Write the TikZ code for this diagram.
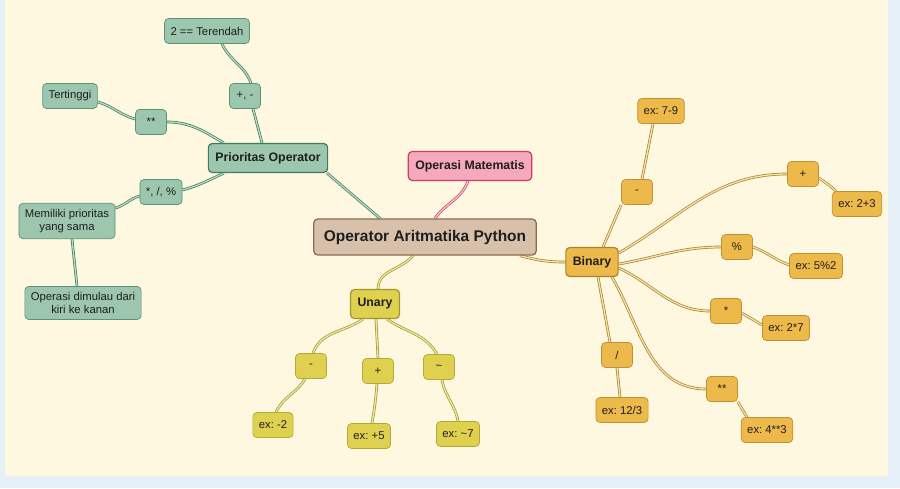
\documentclass[tikz,border=0pt]{standalone}
\usepackage{fontspec}
\setmainfont{Liberation Sans}
\usetikzlibrary{backgrounds}
\frenchspacing

\definecolor{paper}{HTML}{FFF8E0}
\definecolor{frame}{HTML}{E6F0F8}
\definecolor{rootfill}{HTML}{D8C1AB}
\definecolor{rootdraw}{HTML}{8C6B52}
\definecolor{greenfill}{HTML}{9DC6AF}
\definecolor{greendraw}{HTML}{3F7A5E}
\definecolor{greenpale}{HTML}{B8DAC6}
\definecolor{pinkfill}{HTML}{F6A9BC}
\definecolor{pinkdraw}{HTML}{C93F63}
\definecolor{pinkpale}{HTML}{FAC4D2}
\definecolor{yelfill}{HTML}{DFD14F}
\definecolor{yeldraw}{HTML}{A0962E}
\definecolor{yelpale}{HTML}{EEE8A8}
\definecolor{orfill}{HTML}{EDB94B}
\definecolor{ordraw}{HTML}{A8822C}
\definecolor{orpale}{HTML}{F5E2AE}
\definecolor{ink}{HTML}{1E1E1E}

\begin{document}
\begin{tikzpicture}[x=1pt,y=1pt,
	box/.style={rounded corners=4pt,line width=0.7pt,text=ink,align=center,
		font=\fontsize{11.3}{12.8}\selectfont,inner xsep=6pt,inner ysep=2pt,
		minimum height=25pt,minimum width=31pt},
	topic/.style={line width=1.2pt,font=\fontsize{12.3}{14}\selectfont\bfseries,
		inner xsep=7pt,minimum height=29pt},
	gbox/.style={box,fill=greenfill,draw=greendraw!70!greenfill},
	pbox/.style={box,fill=pinkfill,draw=pinkdraw},
	ybox/.style={box,fill=yelfill,draw=yeldraw!70!yelfill},
	obox/.style={box,fill=orfill,draw=ordraw!70!orfill},
	root/.style={box,fill=rootfill,draw=rootdraw,line width=1.3pt,
		font=\fontsize{15.5}{18}\selectfont\bfseries,inner xsep=10pt,minimum height=36pt},
	link/.style={draw,line width=0.7pt,double distance=1.3pt},
	gline/.style={every edge/.style={link,draw=greendraw,double=greenpale}},
	pline/.style={every edge/.style={link,draw=pinkdraw,double=pinkpale}},
	yline/.style={every edge/.style={link,draw=yeldraw,double=yelpale}},
	oline/.style={every edge/.style={link,draw=ordraw,double=orpale}}
]
	\node[root] (opa) at (425,-237) {Operator Aritmatika Python};
	\node[gbox,topic,draw=greendraw] (prio) at (268,-158) {Prioritas Operator};
	\node[pbox,topic] (mat) at (470,-166) {Operasi Matematis};
	\node[ybox,topic,draw=yeldraw] (unary) at (375,-304) {Unary};
	\node[obox,topic,draw=ordraw] (binary) at (592,-262) {Binary};

	\node[gbox] (terendah) at (207,-31) {2 == Terendah};
	\node[gbox] (tambah) at (245,-96) {+, -};
	\node[gbox] (tertinggi) at (70,-96) {Tertinggi};
	\node[gbox] (pangkat) at (151,-122) {**};
	\node[gbox] (kali) at (161,-192) {*, /, \%};
	\node[gbox,inner ysep=6pt] (sama) at (67,-221) {Memiliki prioritas\\yang sama};
	\node[gbox,inner ysep=6pt] (kiri) at (83,-303) {Operasi dimulau dari\\kiri ke kanan};

	\node[ybox] (umin) at (311,-366) {-};
	\node[ybox] (uplus) at (378,-371) {+};
	\node[ybox] (utilde) at (439,-367) {\textasciitilde};
	\node[ybox] (exumin) at (273,-425) {ex: -2};
	\node[ybox] (exuplus) at (369,-436) {ex: +5};
	\node[ybox] (exutilde) at (458,-434) {ex: \textasciitilde7};

	\node[obox] (bmin) at (637,-192) {-};
	\node[obox] (exbmin) at (661,-111) {ex: 7-9};
	\node[obox] (bplus) at (803,-174) {+};
	\node[obox] (exbplus) at (857,-204) {ex: 2+3};
	\node[obox] (bmod) at (737,-247) {\%};
	\node[obox] (exbmod) at (816,-266) {ex: 5\%2};
	\node[obox] (bmul) at (726,-311) {*};
	\node[obox] (exbmul) at (786,-328) {ex: 2*7};
	\node[obox] (bdiv) at (617,-355) {/};
	\node[obox] (exbdiv) at (622,-410) {ex: 12/3};
	\node[obox] (bpow) at (722,-389) {**};
	\node[obox] (exbpow) at (767,-430) {ex: 4**3};

	\begin{scope}[on background layer]
	\fill[frame] (0,0) rectangle (900,-488);
	\fill[paper] (5,0) rectangle (888,-476);

	\path[gline]
	([xshift=-45pt]opa.north) edge ([xshift=59pt]prio.south)
	([xshift=-6pt]prio.north) edge ([xshift=8pt]tambah.south)
	([xshift=6pt]tambah.north) edge[out=110,in=-65] ([xshift=15pt]terendah.south)
	([xshift=16pt]prio.north west) edge[out=150,in=0] (pangkat.east)
	([yshift=3pt]pangkat.west) edge[out=165,in=-15] ([yshift=-6pt]tertinggi.east)
	([xshift=16pt]prio.south west) edge[out=-155,in=15] ([yshift=2pt]kali.east)
	([yshift=-4pt]kali.west) edge[out=195,in=15] ([yshift=-5pt]sama.north east)
	([xshift=5pt]sama.south) edge ([xshift=-6pt]kiri.north);

	\path[pline]
	([xshift=10pt]opa.north) edge[out=55,in=-110] ([xshift=-2pt]mat.south);

	\path[yline]
	([xshift=-12pt]opa.south) edge[out=-130,in=90] ([xshift=3pt]unary.north)
	([xshift=-12pt]unary.south) edge[out=-145,in=70] ([xshift=2pt]umin.north)
	([xshift=-6pt]umin.south) edge[out=-120,in=65] ([xshift=3pt]exumin.north)
	([xshift=1pt]unary.south) edge (uplus.north)
	([xshift=-1pt]uplus.south) edge[out=-95,in=80] ([xshift=3pt]exuplus.north)
	([xshift=12pt]unary.south) edge[out=-35,in=120] ([xshift=-2pt]utilde.north)
	([xshift=3pt]utilde.south) edge[out=-80,in=100] (exutilde.north);

	\path[oline]
	([xshift=95pt]opa.south) edge[out=-15,in=180] (binary.west)
	([xshift=11pt]binary.north) edge (bmin.south west)
	([xshift=5pt]bmin.north) edge ([xshift=-8pt]exbmin.south)
	([yshift=9pt]binary.east) edge[out=30,in=180] (bplus.west)
	([yshift=-4pt]bplus.east) edge[out=-35,in=135] ([xshift=4pt]exbplus.north west)
	([yshift=-2pt]binary.east) edge[out=10,in=180] (bmod.west)
	(bmod.east) edge[out=-20,in=160] ([yshift=1pt]exbmod.west)
	([yshift=-6pt]binary.east) edge[out=-25,in=180] (bmul.west)
	([yshift=-2pt]bmul.east) edge ([yshift=3pt]exbmul.west)
	([xshift=6pt]binary.south) edge ([xshift=-7pt]bdiv.north)
	(bdiv.south) edge ([xshift=-2pt]exbdiv.north)
	([xshift=20pt]binary.south) edge[out=-60,in=180] (bpow.west)
	(bpow.south east) edge ([xshift=6pt]exbpow.north west);
	\end{scope}
\end{tikzpicture}
\end{document}
